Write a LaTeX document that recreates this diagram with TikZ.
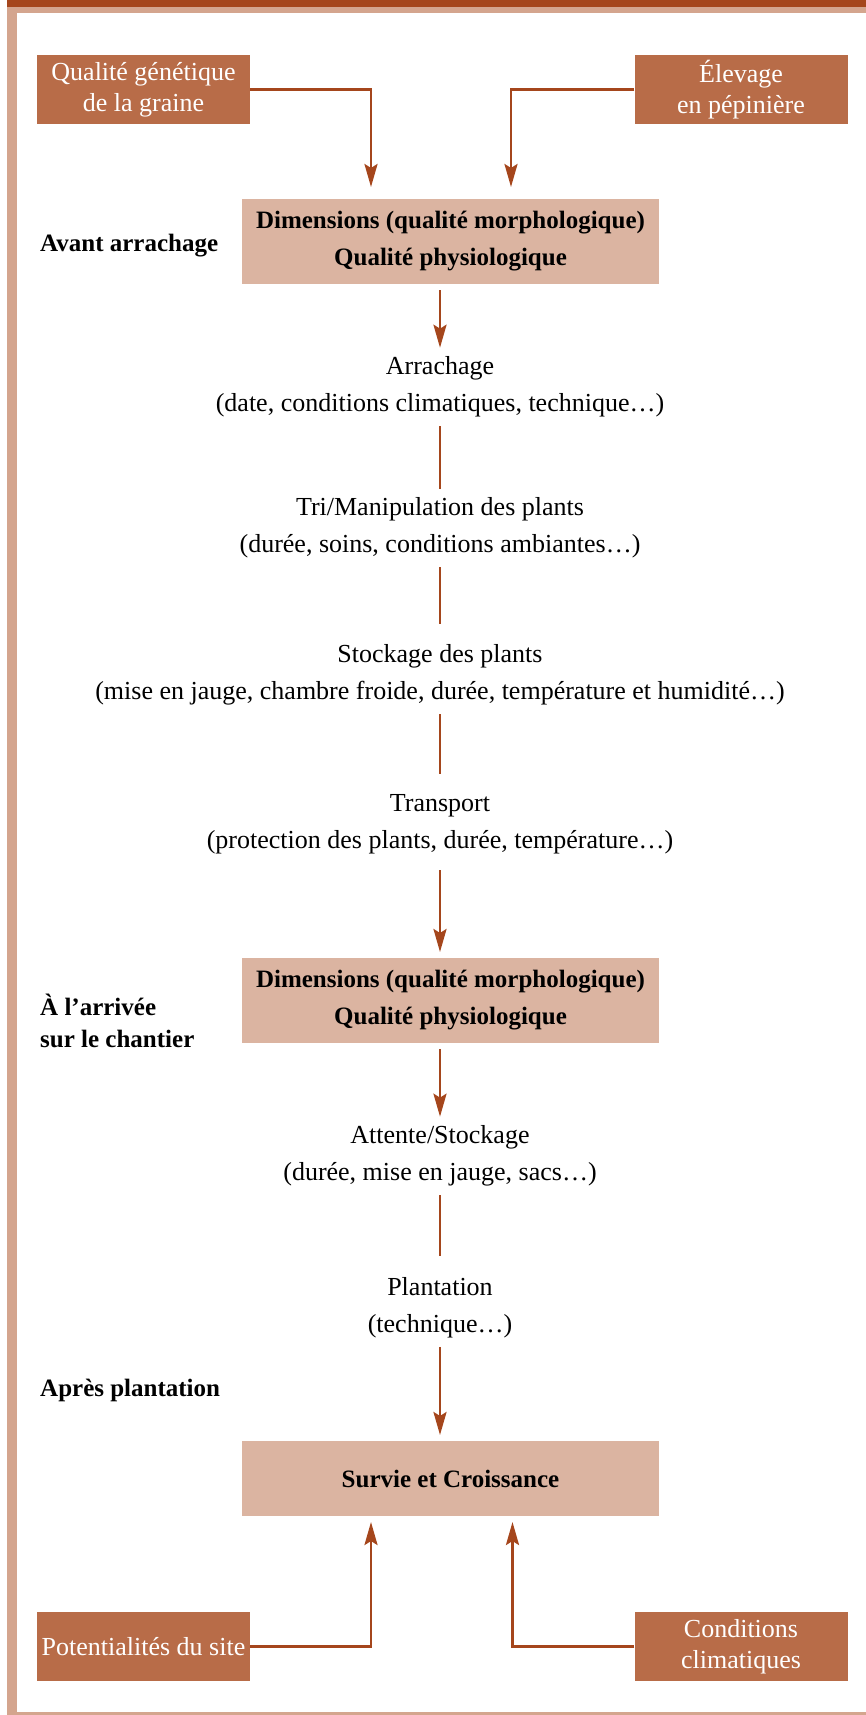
\documentclass[tikz,border=0pt]{standalone}
\usepackage{fontspec}
\setmainfont{Liberation Serif}
\usetikzlibrary{arrows.meta}

\definecolor{brun}{RGB}{165,70,28}
\definecolor{brique}{RGB}{184,108,72}
\definecolor{rose}{RGB}{219,180,161}
\definecolor{saumon}{RGB}{212,165,142}

\tikzset{
  source/.style={shape=rectangle,fill=brique,text=white,minimum width=213pt,minimum height=69pt,inner sep=0pt,align=center,font=\fontsize{26}{31}\selectfont},
  bloc/.style={shape=rectangle,fill=rose,minimum width=417pt,minimum height=85pt,inner sep=0pt,outer sep=6pt,align=center,font=\bfseries\fontsize{25}{37}\selectfont},
  etape/.style={align=center,inner sep=0pt,outer sep=9pt,font=\fontsize{26}{37}\selectfont},
  phase/.style={anchor=west,align=left,inner sep=0pt,font=\bfseries\fontsize{25}{32}\selectfont},
  lien/.style={draw=brun,line width=2.8pt}
}

\begin{document}
\begin{tikzpicture}[x=1pt,y=-1pt,>={Stealth[length=23pt,width=13pt,inset=4pt]}]
\useasboundingbox (0,0) rectangle (866,1715);

% cadre
\fill[saumon] (7,7) rectangle (17,1715);
\fill[brun] (7,0) rectangle (866,7);
\fill[saumon] (7,7) rectangle (866,13);
\fill[saumon] (7,1712) rectangle (866,1715);

\node[source] (Q) at (143.5,89.5) {Qualité génétique\\de la graine};
\node[source] (E) at (741,89.5) {Élevage\\en pépinière};
\node[source] (PS) at (143.5,1646.5) {Potentialités du site};
\node[source] (CC) at (741,1646.5) {Conditions\\climatiques};

\node[bloc] (B1) at (450.5,241.5) {Dimensions (qualité morphologique)\\Qualité physiologique};
\node[bloc] (B2) at (450.5,1000.5) {Dimensions (qualité morphologique)\\Qualité physiologique};
\node[bloc,minimum height=75pt] (B3) at (450.5,1478.5) {Survie et Croissance};

\node[etape] (A) at (440,387) {Arrachage\\(date, conditions climatiques, technique…)};
\node[etape] (T) at (440,528) {Tri/Manipulation des plants\\(durée, soins, conditions ambiantes…)};
\node[etape] (S) at (440,675) {Stockage des plants\\(mise en jauge, chambre froide, durée, température et humidité…)};
\node[etape] (TR) at (440,824.5) {Transport\\(protection des plants, durée, température…)};
\node[etape] (AS) at (440,1156) {Attente/Stockage\\(durée, mise en jauge, sacs…)};
\node[etape] (P) at (440,1307.5) {Plantation\\(technique…)};

\node[phase] (L1) at (40,246) {Avant arrachage};
\node[phase] (L2) at (40,1021) {À l'arrivée\\sur le chantier};
\node[phase] (L3) at (40,1390) {Après plantation};

\draw[lien,->,shorten >=6pt] (Q) -| ([xshift=-79.5pt]B1.north);
\draw[lien,->,shorten >=6pt] (E) -| ([xshift=60.5pt]B1.north);
\draw[lien,->] (B1.south -| A) -- (A);
\path[lien] (A) edge (T);
\path[lien,shorten >=12pt] (T) edge (S);
\path[lien,shorten >=12pt] (S) edge (TR);
\draw[lien,->,shorten <=7pt] (TR) -- (TR |- B2.north);
\draw[lien,->] (B2.south -| AS) -- (AS);
\path[lien,shorten >=12pt] (AS) edge (P);
\draw[lien,->] (P) -- (P |- B3.north);
\draw[lien,->] (PS) -| ([xshift=-79.5pt]B3.south);
\draw[lien,->] (CC) -| ([xshift=62pt]B3.south);

\end{tikzpicture}
\end{document}
